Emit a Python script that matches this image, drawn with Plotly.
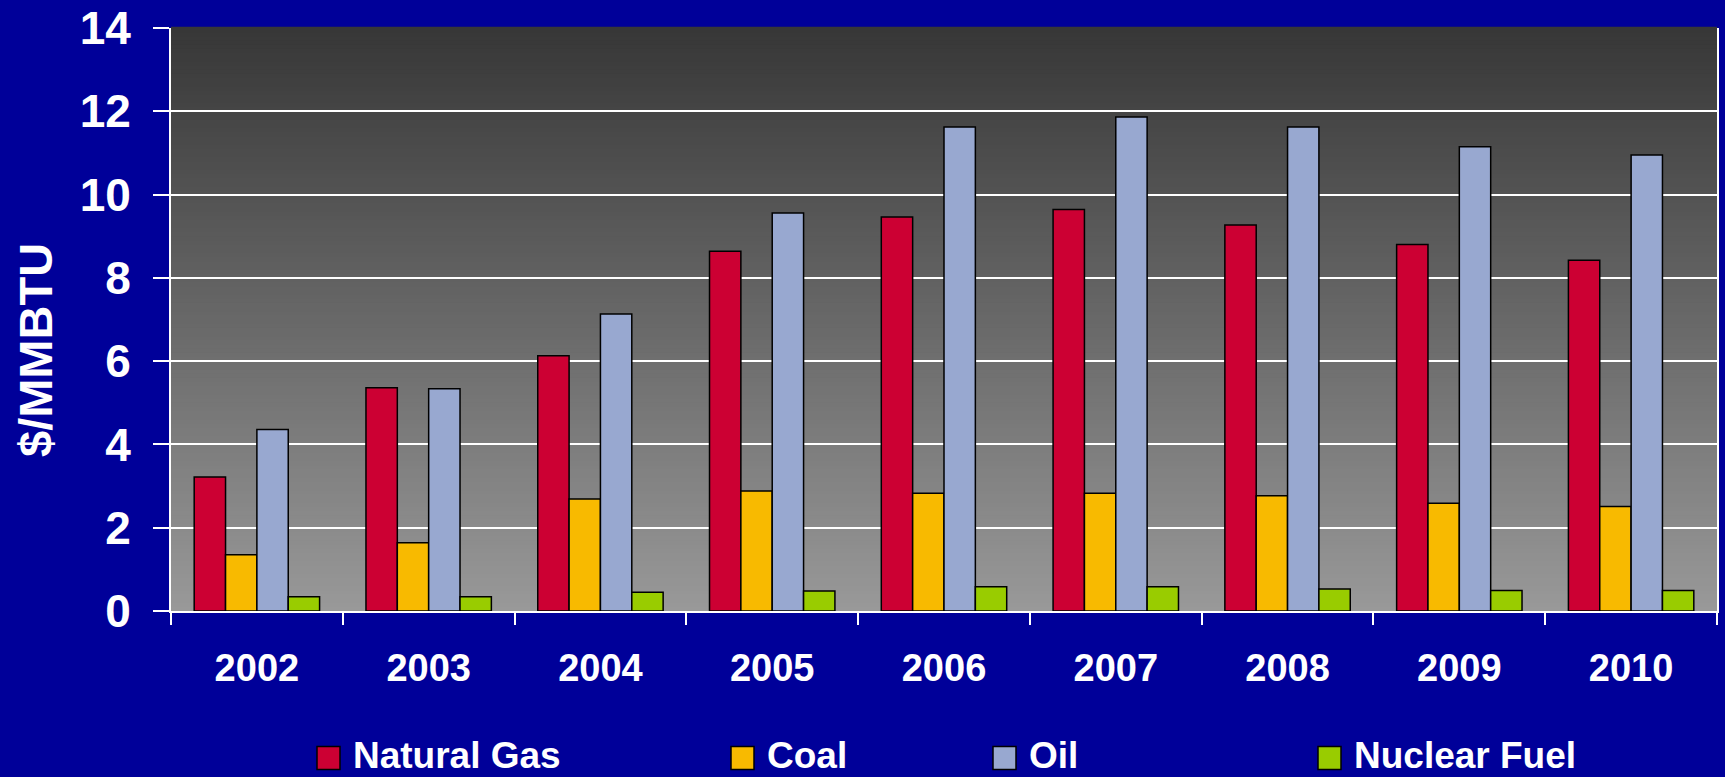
import plotly.graph_objects as go

# Fuel prices in $/MMBTU by year
years = ["2002", "2003", "2004", "2005", "2006", "2007", "2008", "2009", "2010"]
natural_gas = [3.22, 5.36, 6.13, 8.64, 9.46, 9.64, 9.27, 8.80, 8.42]
coal = [1.35, 1.64, 2.69, 2.88, 2.83, 2.83, 2.77, 2.59, 2.51]
oil = [4.36, 5.34, 7.13, 9.56, 11.62, 11.86, 11.62, 11.15, 10.95]
nuclear_fuel = [0.34, 0.34, 0.45, 0.48, 0.58, 0.58, 0.53, 0.49, 0.49]

series_names = ["Natural Gas", "Coal", "Oil", "Nuclear Fuel"]
series_values = [natural_gas, coal, oil, nuclear_fuel]
series_colors = ["#CC0033", "#F8BA00", "#98A8D0", "#99CC00"]

y_ticks = [0, 2, 4, 6, 8, 10, 12, 14]
y_title = "$/MMBTU"

BG = "#000099"
FONT = "Liberation Sans, Arial, sans-serif"
W, H = 1725, 777
M_L, M_R, M_T, M_B = 171, 8, 28, 166
PW, PH = W - M_L - M_R, H - M_T - M_B


def px_x(px):
    """Horizontal pixel position -> paper coordinate."""
    return (px - M_L) / PW


def px_y(py):
    """Vertical pixel position (from top) -> paper coordinate."""
    return (H - M_B - py) / PH


fig = go.Figure()
for name, vals, col in zip(series_names, series_values, series_colors):
    fig.add_trace(go.Bar(
        x=years, y=vals, name=name,
        marker=dict(color=col, line=dict(color="#000000", width=1.5)),
        showlegend=False,
    ))

# vertical grey gradient behind the plot area
shapes = []
n_steps = 140
top_c, bot_c = 0x37, 0x99
for i in range(n_steps):
    f0, f1 = i / n_steps, (i + 1) / n_steps
    t = (f0 + f1) / 2
    c = round(bot_c + (top_c - bot_c) * t)
    shapes.append(dict(
        type="rect", xref="x domain", yref="y domain",
        x0=0, x1=1, y0=f0, y1=f1 + 0.002,
        fillcolor=f"rgb({c},{c},{c})", line=dict(width=0), layer="below",
    ))

# legend: swatches and labels laid out along the bottom
legend_x = [317, 731, 993, 1318]
legend_yc = 758
sw = 23
annotations = []
for name, col, lx in zip(series_names, series_colors, legend_x):
    shapes.append(dict(
        type="rect", xref="paper", yref="paper",
        x0=px_x(lx), x1=px_x(lx + sw),
        y0=px_y(legend_yc + sw / 2), y1=px_y(legend_yc - sw / 2),
        fillcolor=col, line=dict(color="#000000", width=1.5),
    ))
    annotations.append(dict(
        xref="paper", yref="paper",
        x=px_x(lx + sw + 12), y=px_y(H),
        xanchor="left", yanchor="bottom", showarrow=False, borderpad=0,
        text=name, font=dict(family=FONT, size=37, color="white", weight="bold"),
    ))

# rotated y-axis title
annotations.append(dict(
    xref="paper", yref="paper",
    x=px_x(35), y=px_y(350),
    xanchor="center", yanchor="middle", showarrow=False, textangle=-90,
    text=y_title, font=dict(family=FONT, size=47, color="white", weight="bold"),
))

fig.update_layout(
    width=W, height=H,
    margin=dict(l=M_L, r=M_R, t=M_T, b=M_B, pad=0),
    paper_bgcolor=BG, plot_bgcolor="#999999",
    barmode="group", bargap=0.27, bargroupgap=0,
    shapes=shapes, annotations=annotations,
    showlegend=False,
    font=dict(family=FONT, color="white", weight="bold"),
)
fig.update_xaxes(
    type="category", tickson="boundaries",
    ticks="outside", ticklen=12, tickwidth=2, tickcolor="white",
    showline=True, linecolor="white", linewidth=2,
    showgrid=False,
    tickfont=dict(family=FONT, size=38, color="white", weight="bold"),
    ticklabelstandoff=22,
)
fig.update_yaxes(
    range=[0, 14], tickvals=y_ticks,
    ticks="outside", ticklen=16, tickwidth=2, tickcolor="white",
    showline=True, linecolor="white", linewidth=2, mirror=True,
    showgrid=True, gridcolor="white", gridwidth=2,
    zeroline=False,
    tickfont=dict(family=FONT, size=46, color="white", weight="bold"),
    ticklabelstandoff=13,
    automargin=False,
)

fig.write_html("out.html")
